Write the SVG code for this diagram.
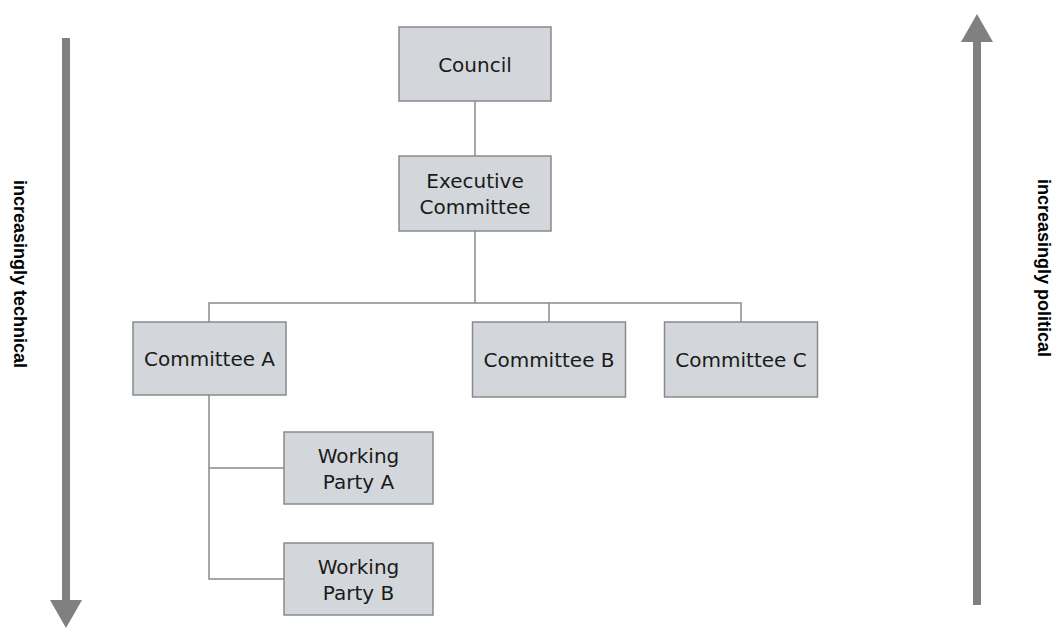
<svg xmlns="http://www.w3.org/2000/svg" width="1056" height="628" viewBox="0 0 1056 628">
<style>
.box{fill:#d3d7db;stroke:#8a8a8a;stroke-width:1.5}
.lbl{font-family:"DejaVu Sans",Verdana,sans-serif;font-size:20px;fill:#1a1a1a;text-anchor:middle}
.conn{fill:none;stroke:#8a8a8a;stroke-width:1.5}
.side{font-family:"Liberation Sans",Arial,sans-serif;font-size:18px;font-weight:bold;fill:#000;text-anchor:middle}
.arr{fill:#808080}
</style>
<rect width="1056" height="628" fill="#ffffff"/>
<g id="connectors">
<path class="conn" d="M475 101V156"/>
<path class="conn" d="M475 231V303"/>
<path class="conn" d="M209 322V303H741V322"/>
<path class="conn" d="M549 303V322"/>
<path class="conn" d="M209 395V579H284"/>
<path class="conn" d="M209 468H284"/>
</g>
<g id="council"><rect class="box" x="399" y="27" width="152" height="74"/><text class="lbl" x="475" y="71.5">Council</text></g>
<g id="executive"><rect class="box" x="399" y="156" width="152" height="75"/><text class="lbl" x="475" y="188">Executive</text><text class="lbl" x="475" y="214">Committee</text></g>
<g id="committee-a"><rect class="box" x="133" y="322" width="153" height="73"/><text class="lbl" x="209.5" y="366">Committee A</text></g>
<g id="committee-b"><rect class="box" x="472.5" y="322" width="153" height="75"/><text class="lbl" x="549" y="367">Committee B</text></g>
<g id="committee-c"><rect class="box" x="664.5" y="322" width="153" height="75"/><text class="lbl" x="741" y="367">Committee C</text></g>
<g id="wp-a"><rect class="box" x="284" y="432" width="149" height="72"/><text class="lbl" x="358.5" y="463">Working</text><text class="lbl" x="358.5" y="489">Party A</text></g>
<g id="wp-b"><rect class="box" x="284" y="543" width="149" height="72"/><text class="lbl" x="358.5" y="574">Working</text><text class="lbl" x="358.5" y="600">Party B</text></g>
<g id="arrow-technical">
<polygon class="arr" points="62,38 70,38 70,600 82,600 66,628 50,600 62,600"/>
<text class="side" transform="translate(14,274) rotate(90)">increasingly technical</text>
</g>
<g id="arrow-political">
<polygon class="arr" points="973,605 981,605 981,42 993,42 977,14 961,42 973,42"/>
<text class="side" transform="translate(1038,268) rotate(90)">increasingly political</text>
</g>
</svg>
